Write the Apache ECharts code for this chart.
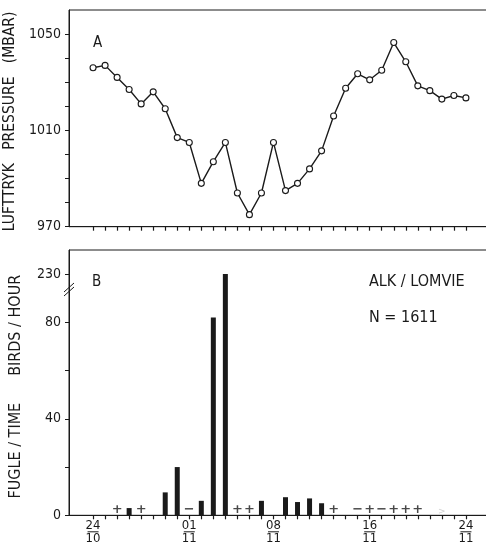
<!DOCTYPE html>
<html>
<head>
<meta charset="utf-8">
<script src="https://cdn.jsdelivr.net/npm/echarts@6/dist/echarts.min.js"></script>
<style>
  html, body { margin: 0; padding: 0; background: #fff; }
  #container { width: 486px; height: 547px; }
</style>
</head>
<body>
<div id="container"></div>
<script>
var dates = ['24/10', '25/10', '26/10', '27/10', '28/10', '29/10', '30/10', '31/10',
    '01/11', '02/11', '03/11', '04/11', '05/11', '06/11', '07/11', '08/11',
    '09/11', '10/11', '11/11', '12/11', '13/11', '14/11', '15/11', '16/11',
    '17/11', '18/11', '19/11', '20/11', '21/11', '22/11', '23/11', '24/11'];

// lufttryk (mbar), en værdi pr. dag
var pressure = [1036, 1037, 1032, 1027, 1021, 1026, 1019, 1007, 1005, 988, 997, 1005,
    984, 975, 984, 1005, 985, 988, 994, 1001.5, 1016, 1027.5, 1033.5, 1031,
    1035, 1046.5, 1038.5, 1028.5, 1026.5, 1023, 1024.5, 1023.5];

// fugle / time
var birds = [null, null, null, 3, null, null, 9.5, 20, null, 6, 82, 230,
    null, null, 6, null, 7.5, 5.5, 7, 5, null, null, null, null,
    null, null, null, null, null, null, null, null];

// + / - markeringer
var signs = ['', '', '+', '', '+', '', '', '', '−', '', '', '',
    '+', '+', '', '', '', '', '', '', '+', '', '−', '+',
    '−', '+', '+', '+', '', '>', '', ''];

var dateLabelDays = ['24/10', '01/11', '08/11', '16/11', '24/11'];
var pressureLabels = [970, 1010, 1050];

var FONT = "'Liberation Sans Narrow', 'DejaVu Sans Condensed', 'Liberation Sans', sans-serif";
var INK = '#1a1a1a';

// knækket akse: lineær op til 90, derefter komprimeret (230 -> 100)
var BREAK_AT = 90;
function brokenAxis(v) {
    return v <= BREAK_AT ? v : BREAK_AT + (v - BREAK_AT) * 10 / 140;
}

function range(a, b, step) {
    var r = [];
    for (var i = a; i <= b; i += step) r.push(i);
    return r;
}

function initChart() {
    var dom = document.getElementById('container');
    var myChart = echarts.init(dom, null, { renderer: 'canvas' });

    var dayIdx = dates.map(function (d, i) { return i; });
    var labelIdx = dateLabelDays.map(function (d) { return dates.indexOf(d); });

    var lineData = pressure.map(function (v, i) { return [i, v]; });
    var barData = [];
    birds.forEach(function (v, i) {
        if (v != null) barData.push([i, brokenAxis(v)]);
    });
    var signData = [];
    signs.forEach(function (s, i) {
        if (!s) return;
        var d = { value: [i, 0], sign: s };
        if (s === '>') d.label = { color: '#c4c4c4', fontWeight: 'normal', fontSize: 9 };
        signData.push(d);
    });

    var baseX = {
        type: 'value',
        min: -2,
        max: 34,
        splitLine: { show: false },
        axisLine: { onZero: false, lineStyle: { color: INK, width: 1 } },
        axisTick: {
            show: true, inside: false, length: 4,
            customValues: dayIdx,
            lineStyle: { color: INK, width: 1.2 }
        }
    };

    var option = {
        animation: false,
        backgroundColor: '#fff',
        textStyle: { fontFamily: FONT },
        grid: [
            { left: 69, right: -16, top: 10, height: 216.7, show: true, borderColor: INK, borderWidth: 1, outerBoundsMode: 'none', containLabel: false },
            { left: 69, right: -16, top: 250, height: 265.3, show: true, borderColor: INK, borderWidth: 1, outerBoundsMode: 'none', containLabel: false }
        ],
        xAxis: [
            echarts.util.merge({
                gridIndex: 0,
                axisLabel: { show: false }
            }, baseX, true),
            echarts.util.merge({
                gridIndex: 1,
                axisLabel: {
                    show: true,
                    customValues: labelIdx,
                    margin: 5,
                    formatter: function (v) {
                        var p = dates[v].split('/');
                        return '{t|' + p[0] + '}\n{l| }\n{b|' + p[1] + '}';
                    },
                    rich: {
                        t: { fontFamily: FONT, fontSize: 13, color: INK, lineHeight: 10, align: 'center' },
                        l: { width: 11, height: 1, lineHeight: 3, backgroundColor: INK, fontSize: 1, align: 'center' },
                        b: { fontFamily: FONT, fontSize: 13, color: INK, lineHeight: 11, align: 'center' }
                    }
                }
            }, baseX, true)
        ],
        yAxis: [
            {
                gridIndex: 0,
                type: 'value',
                min: 970,
                max: 1060,
                name: 'LUFTTRYK   PRESSURE   (MBAR)',
                nameLocation: 'middle',
                nameRotate: 90,
                nameGap: 45,
                nameTextStyle: { fontFamily: FONT, fontSize: 15.5, color: INK, padding: [0, 6, 0, 0] },
                splitLine: { show: false },
                axisLine: { show: true, onZero: false, lineStyle: { color: INK, width: 1 } },
                axisTick: {
                    show: true, inside: false, length: 4,
                    customValues: range(970, 1050, 10),
                    lineStyle: { color: INK }
                },
                axisLabel: {
                    customValues: pressureLabels,
                    margin: 8,
                    fontFamily: FONT, fontSize: 14, color: INK,
                    formatter: function (v) { return String(v); }
                }
            },
            {
                gridIndex: 1,
                type: 'value',
                min: 0,
                max: 110,
                name: '{a|FUGLE / TIME}{g|}{a|BIRDS / HOUR}',
                nameLocation: 'middle',
                nameRotate: 90,
                nameGap: 45,
                nameTextStyle: {
                    color: INK,
                    padding: [0, 8, 0, 0],
                    rich: {
                        a: { fontFamily: FONT, fontSize: 16, color: INK },
                        g: { width: 27 }
                    }
                },
                splitLine: { show: false },
                axisLine: { show: true, onZero: false, lineStyle: { color: INK, width: 1 } },
                axisTick: {
                    show: true, inside: false, length: 4,
                    customValues: [0, 20, 40, 60, 80, brokenAxis(230)],
                    lineStyle: { color: INK }
                },
                axisLabel: {
                    customValues: [0, 40, 80, brokenAxis(230)],
                    margin: 8,
                    fontFamily: FONT, fontSize: 14, color: INK,
                    formatter: function (v) {
                        return v > BREAK_AT ? '230' : String(v);
                    }
                }
            }
        ],
        series: [
            {
                name: 'pressure',
                type: 'line',
                xAxisIndex: 0,
                yAxisIndex: 0,
                data: lineData,
                symbol: 'circle',
                symbolSize: 6,
                showAllSymbol: true,
                lineStyle: { color: INK, width: 1.4 },
                itemStyle: { color: '#fff', borderColor: INK, borderWidth: 1.1 }
            },
            {
                name: 'birds',
                type: 'bar',
                xAxisIndex: 1,
                yAxisIndex: 1,
                data: barData,
                barWidth: 5,
                itemStyle: { color: INK }
            },
            {
                name: 'signs',
                type: 'scatter',
                xAxisIndex: 1,
                yAxisIndex: 1,
                data: signData,
                symbolSize: 0,
                label: {
                    show: true,
                    position: 'top',
                    distance: -1,
                    fontFamily: 'DejaVu Sans',
                    fontSize: 13,
                    fontWeight: 'bold',
                    formatter: function (p) { return p.data.sign; },
                    color: INK
                },
                labelLayout: { hideOverlap: false }
            }
        ],
        graphic: [
            { type: 'text', left: 93, top: 36, style: { text: 'A', font: '15px ' + FONT, fill: INK } },
            { type: 'text', left: 92, top: 275, style: { text: 'B', font: '15px ' + FONT, fill: INK } },
            { type: 'text', left: 369, top: 274, style: { text: 'ALK / LOMVIE', font: '16px ' + FONT, fill: INK } },
            { type: 'text', left: 369, top: 310, style: { text: 'N = 1611', font: '16px ' + FONT, fill: INK } },
            // knæk-markering på y-aksen
            { type: 'line', shape: { x1: 64, y1: 292, x2: 74, y2: 283 }, style: { stroke: INK, lineWidth: 1 } },
            { type: 'line', shape: { x1: 64, y1: 296, x2: 74, y2: 287 }, style: { stroke: INK, lineWidth: 1 } }
        ]
    };

    myChart.setOption(option, true);
}

initChart();
</script>
</body>
</html>
